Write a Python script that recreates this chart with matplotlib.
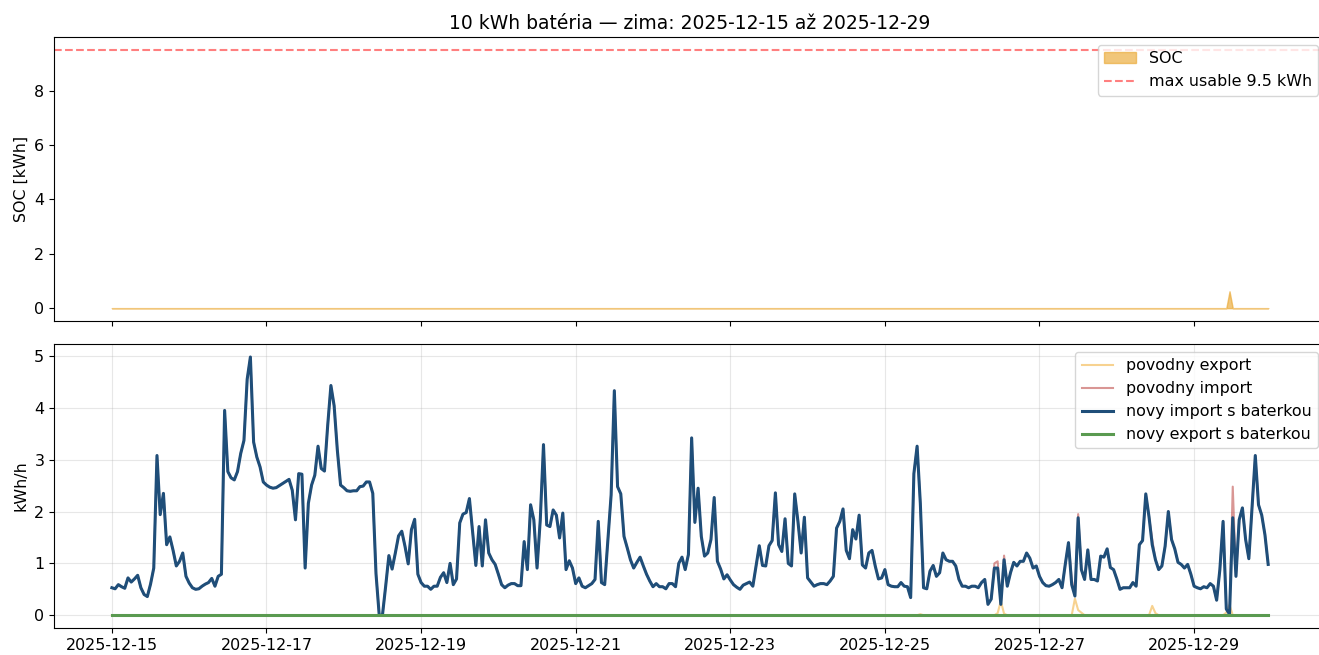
import numpy as np
import pandas as pd
import matplotlib
matplotlib.use("Agg")
import matplotlib.pyplot as plt
import matplotlib.dates as mdates

# hodinove data 2025-12-15 00:00 .. 2025-12-29 23:00
hours = pd.date_range("2025-12-15 00:00", periods=360, freq="h")

# novy import s baterkou [kWh/h], po dnoch
new_import = [
    0.53, 0.51, 0.59, 0.55, 0.52, 0.72, 0.64, 0.70, 0.77, 0.53, 0.40, 0.36, 0.60, 0.91, 3.08, 1.94, 2.35, 1.36, 1.51, 1.25, 0.95, 1.04, 1.20, 0.75,
    0.62, 0.53, 0.50, 0.51, 0.56, 0.60, 0.63, 0.71, 0.56, 0.75, 0.79, 3.95, 2.77, 2.65, 2.61, 2.77, 3.12, 3.37, 4.55, 4.98, 3.34, 3.05, 2.86, 2.57,
    2.51, 2.47, 2.45, 2.46, 2.50, 2.54, 2.58, 2.62, 2.41, 1.84, 2.73, 2.72, 0.91, 2.16, 2.51, 2.70, 3.26, 2.83, 2.78, 3.66, 4.43, 4.04, 3.18, 2.51,
    2.46, 2.40, 2.39, 2.40, 2.40, 2.48, 2.49, 2.57, 2.57, 2.35, 0.80, 0.00, 0.00, 0.56, 1.15, 0.89, 1.20, 1.53, 1.62, 1.33, 0.99, 1.65, 1.85, 0.79,
    0.63, 0.56, 0.56, 0.50, 0.56, 0.56, 0.73, 0.82, 0.63, 1.00, 0.59, 0.70, 1.78, 1.95, 1.98, 2.25, 1.60, 0.96, 1.71, 0.95, 1.84, 1.20, 1.07, 0.98,
    0.79, 0.59, 0.53, 0.58, 0.61, 0.61, 0.57, 0.57, 1.42, 0.88, 2.13, 1.84, 0.91, 1.84, 3.29, 1.74, 1.71, 2.03, 1.93, 1.49, 1.97, 0.88, 1.05, 0.91,
    0.61, 0.72, 0.56, 0.53, 0.57, 0.61, 0.69, 1.81, 0.63, 0.59, 1.46, 2.32, 4.33, 2.48, 2.34, 1.52, 1.30, 1.07, 0.91, 1.02, 1.12, 0.95, 0.79, 0.66,
    0.55, 0.61, 0.55, 0.55, 0.51, 0.61, 0.61, 0.55, 1.00, 1.12, 0.88, 1.17, 3.42, 1.79, 2.45, 1.52, 1.14, 1.20, 1.46, 2.27, 1.04, 0.89, 0.70, 0.78,
    0.68, 0.59, 0.54, 0.50, 0.58, 0.61, 0.64, 0.56, 0.95, 1.34, 0.96, 0.95, 1.34, 1.44, 2.36, 1.36, 1.23, 1.86, 1.00, 0.95, 2.34, 1.81, 1.20, 1.89,
    0.72, 0.64, 0.56, 0.59, 0.61, 0.61, 0.59, 0.66, 0.75, 1.68, 1.81, 2.05, 1.25, 1.09, 1.65, 1.47, 1.93, 0.97, 0.91, 1.20, 1.25, 0.95, 0.70, 0.72,
    0.88, 0.59, 0.56, 0.55, 0.55, 0.63, 0.56, 0.55, 0.34, 2.73, 3.26, 2.16, 0.53, 0.51, 0.85, 0.96, 0.75, 0.82, 1.20, 1.07, 1.04, 1.04, 0.95, 0.69,
    0.56, 0.56, 0.53, 0.56, 0.56, 0.53, 0.63, 0.69, 0.21, 0.31, 0.91, 0.91, 0.21, 1.07, 0.56, 0.82, 1.02, 0.95, 1.04, 1.04, 1.20, 1.10, 0.91, 0.95,
    0.75, 0.63, 0.57, 0.56, 0.59, 0.63, 0.69, 0.53, 0.98, 1.40, 0.59, 0.37, 1.88, 0.88, 0.69, 1.26, 0.69, 0.69, 0.66, 1.14, 1.12, 1.28, 0.92, 0.88,
    0.70, 0.50, 0.53, 0.53, 0.53, 0.63, 0.56, 1.36, 1.44, 2.34, 1.90, 1.36, 1.07, 0.88, 0.95, 1.33, 2.00, 1.46, 1.28, 1.02, 0.98, 0.91, 0.98, 0.79,
    0.56, 0.53, 0.51, 0.55, 0.53, 0.61, 0.56, 0.29, 0.88, 1.81, 0.12, 0.02, 1.88, 0.75, 1.84, 2.07, 1.46, 1.09, 2.09, 3.08, 2.13, 1.93, 1.55, 0.98,
]

# povodny import sa lisi od noveho len v tychto hodinach (index hodiny: hodnota)
orig_import_diff = {274: 1.00, 275: 1.04, 277: 1.15, 298: 0.70, 300: 1.95, 323: 1.46, 348: 2.48}

# povodny export (nenulove hodiny)
orig_export_nonzero = {251: 0.02, 275: 0.04, 276: 0.27, 277: 0.03, 299: 0.32, 300: 0.10, 301: 0.05,
                       323: 0.18, 324: 0.04, 346: 0.05, 347: 0.20}

# SOC baterie [kWh] (nenulove hodiny)
soc_nonzero = {347: 0.62}

max_usable = 9.5

orig_import = list(new_import)
for k, v in orig_import_diff.items():
    orig_import[k] = v
orig_export = [orig_export_nonzero.get(i, 0.0) for i in range(len(hours))]
new_export = [0.0] * len(hours)
soc = [soc_nonzero.get(i, 0.0) for i in range(len(hours))]

plt.rcParams["font.size"] = 11.4

fig, (ax1, ax2) = plt.subplots(2, 1, figsize=(13.19, 6.55), dpi=100, sharex=True)
# prava hrana osi je za okrajom obrazka (ako v povodnom vystupe)
fig.subplots_adjust(left=0.041, right=1.0053, top=0.9435, bottom=0.041, hspace=0.081)

ax1.fill_between(hours, soc, color="#eaa833", alpha=0.65, label="SOC")
ax1.axhline(max_usable, color="red", alpha=0.5, linestyle="--", linewidth=1.5, label=f"max usable {max_usable} kWh")
ax1.set_ylabel("SOC [kWh]")
ax1.set_title("10 kWh batéria — zima: 2025-12-15 až 2025-12-29", fontsize=13.5)
ax1.legend(loc="upper right")

ax2.plot(hours, orig_export, color="#f5c36b", alpha=0.75, linewidth=1.5, label="povodny export")
ax2.plot(hours, orig_import, color="#c0504d", alpha=0.6, linewidth=1.5, label="povodny import")
ax2.plot(hours, new_import, color="#1f4e79", linewidth=2.2, label="novy import s baterkou")
ax2.plot(hours, new_export, color="#5a9a50", linewidth=2.2, label="novy export s baterkou")
ax2.set_ylabel("kWh/h")
ax2.grid(alpha=0.3)
ax2.legend(loc="upper right")

ax2.xaxis.set_major_locator(mdates.DayLocator(interval=2))
ax2.xaxis.set_major_formatter(mdates.DateFormatter("%Y-%m-%d"))

fig.savefig("out.png", dpi=100)
